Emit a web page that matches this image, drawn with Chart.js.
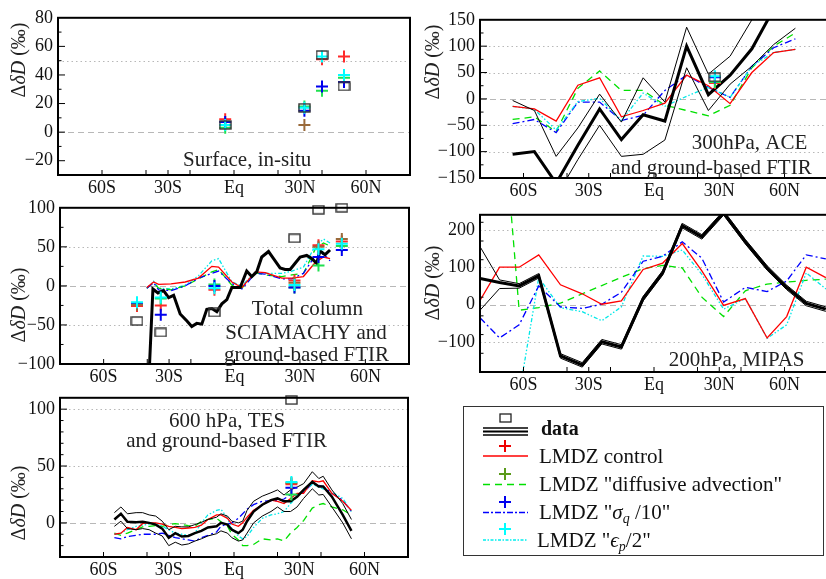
<!DOCTYPE html>
<html>
<head>
<meta charset="utf-8">
<script src="https://cdn.jsdelivr.net/npm/chart.js@4.4.1/dist/chart.umd.min.js"></script>
<style>
  body { margin: 0; width: 826px; height: 579px; overflow: hidden; background: #fff; position: relative;
         font-family: 'Liberation Serif', 'Times New Roman', serif; }
  canvas { position: absolute; }
  .yt { position: absolute; white-space: nowrap; font-size: 20px; color: #222;
        transform: translate(-50%, -50%) rotate(-90deg); }
  #legend { position: absolute; left: 463px; top: 406px; width: 361px; height: 150px;
            border: 1.5px solid #333; box-sizing: border-box; }
  #legend svg { position: absolute; left: 0; top: 0; }
  .lt { position: absolute; font-size: 21px; line-height: 24px; height: 24px; white-space: nowrap; color: #111; }
  .lt sub { font-size: 14px; vertical-align: -4px; line-height: 0; }
</style>
</head>
<body>
<canvas id="p1"></canvas>
<canvas id="p2"></canvas>
<canvas id="p3"></canvas>
<canvas id="p4"></canvas>
<canvas id="p5"></canvas>

<div class="yt" style="left:18px; top:60px">&Delta;<i>&delta;D</i> (&permil;)</div>
<div class="yt" style="left:432px; top:62px">&Delta;<i>&delta;D</i> (&permil;)</div>
<div class="yt" style="left:18px; top:305px">&Delta;<i>&delta;D</i> (&permil;)</div>
<div class="yt" style="left:432px; top:283px">&Delta;<i>&delta;D</i> (&permil;)</div>
<div class="yt" style="left:18px; top:503px">&Delta;<i>&delta;D</i> (&permil;)</div>

<div id="legend">
  <svg width="361" height="150">
    <rect x="36" y="7" width="11" height="8" fill="none" stroke="#222" stroke-width="1.3"/>
    <line x1="19" y1="21" x2="64" y2="21" stroke="#000" stroke-width="1.5"/>
    <line x1="19" y1="24.5" x2="64" y2="24.5" stroke="#000" stroke-width="2"/>
    <line x1="19" y1="28" x2="64" y2="28" stroke="#000" stroke-width="1.5"/>

    <path d="M35 39 H47 M41 33 V45" stroke="#ee0000" stroke-width="2"/>
    <line x1="19" y1="49" x2="64" y2="49" stroke="#ff0000" stroke-width="1.5"/>

    <path d="M35 67 H47 M41 61 V73" stroke="#5a9a1a" stroke-width="2"/>
    <line x1="19" y1="77.5" x2="64" y2="77.5" stroke="#00e000" stroke-width="1.5" stroke-dasharray="7,5"/>

    <path d="M35 95 H47 M41 89 V101" stroke="#0000ee" stroke-width="2"/>
    <line x1="19" y1="105.5" x2="64" y2="105.5" stroke="#0000ff" stroke-width="1.5" stroke-dasharray="6,2,2,2"/>

    <path d="M35 122 H47 M41 116 V128" stroke="#00ffff" stroke-width="2"/>
    <line x1="19" y1="133" x2="64" y2="133" stroke="#00eeee" stroke-width="1.5" stroke-dasharray="3,1.5,1.5,1.5"/>
  </svg>
  <div class="lt" style="left:77px; top:9px; font-weight:bold; font-size:20px">data</div>
  <div class="lt" style="left:75px; top:37px">LMDZ control</div>
  <div class="lt" style="left:75px; top:65px">LMDZ "diffusive advection"</div>
  <div class="lt" style="left:75px; top:93px">LMDZ "<i>&sigma;<sub>q</sub></i> /10"</div>
  <div class="lt" style="left:73px; top:121px">LMDZ "<i>&#x03F5;<sub>p</sub></i>/2"</div>
</div>

<script>
// ---- shared axis labels ----
const LAT_TICKS  = [-60, -30, 0, 30, 60];
const LAT_LABELS = ['60S', '30S', 'Eq', '30N', '60N'];
const LAT_MINOR  = [-60, -40, -30, -20, 0, 20, 30, 40, 60];

// ---- panel 1 : surface, in-situ (station markers only) ----
const p1Lat    = [-4, 32, 40, 50];
const p1Obs    = [5, 17, 54, 32];
const p1Ctrl   = [9, null, 51, 53];
const p1Diff   = [3, 18, 29, 38];
const p1Adv    = [null, 5, null, null];
const p1Sig    = [7, 15, 32, 35];
const p1Eps    = [5, 17, 53, 40];
const p1YTicks = [-20, 0, 20, 40, 60, 80];

// ---- panel 2 : 300 hPa, ACE ----
const p2Lat    = [-65, -55, -45, -35, -25, -15, -5, 5, 15, 25, 35, 45, 55, 65];
const p2Obs    = [-105, -100, -160, -88, -19, -77, -30, -42, 100, 8, 45, 95, 170, 230];
const p2ObsHi  = [-3, -22, -109, -55, 9, -44, 40, -6, 136, 47, 81, 150, 220, 280];
const p2ObsLo  = [-210, -200, -185, -115, -50, -109, -105, -78, 59, -22, 28, 62, 103, 134];
const p2Ctrl   = [-14, -19, -42, 26, 40, -34, -22, -8, 45, 25, -9, 50, 88, 94];
const p2Diff   = [-39, -34, -62, 20, 53, 16, 16, -12, -22, -32, -12, 59, 100, 125];
const p2Sig    = [-47, -39, -64, -6, -6, -41, -31, 16, 45, 22, 3, 62, 97, 114];
const p2Eps    = [-14, -20, -59, -5, 1, -41, 11, -14, 5, 22, 3, 62, 88, 94];
const p2MLat   = [28];
const p2MObs   = [41];
const p2MCtrl  = [30];
const p2MDiff  = [32];
const p2MSig   = [41];
const p2MEps   = [43];
const p2YTicks = [-150, -100, -50, 0, 50, 100, 150];

// ---- panel 3 : total column, SCIAMACHY ----
const p3Lat    = [-39.1, -37.4, -35.1, -32.5, -30.2, -27.9, -24.9, -21.8, -19.6, -17.3, -15, -12.7,
                  -10.4, -8.1, -5.8, -3.5, -1.2, 0.6, 2.6, 5.6, 7.9, 10.2, 12.5, 15.6,
                  17.9, 20.9, 23.2, 25.5, 27.8, 30.1, 33.1, 35.4, 37.7, 39.2, 41.5, 43.8];
const p3Obs    = [-110, -4, -9, -6, -15, -12, -36, -45, -52, -48, -49, -30,
                  -29, -33, -23, -17.5, -2, -2, -2, 19, 12, 18, 37, 44,
                  35, 23, 21, 21, 29, 37, 39, 35, 29, 45, 40, 46];
const p3MdlLat = [-40.2, -37.1, -34.8, -29.1, -22.6, -16.5, -10.4, -7.3, -1.2, 3.4, 9.5, 14.1, 21.7, 26.3, 31.6, 37, 40.8, 43.8];
const p3Ctrl   = [-2, 5, 2, 2.5, 5, 10, 25, 24, 5, -2, 18, 17, 10, 10, 12, 30, 37, 35];
const p3Diff   = [-3, 4, -3, -5, 0, 9, 18, 21, 1, -3, 17, 14, 12, 14, 16, 47, 55, 51];
const p3Sig    = [-3, 4, -5, -6, 0, 10, 16, 19, 3, -4, 16, 15, 9, 9, 16, 39, 41, 32];
const p3Eps    = [-3, 6, -3, -4, 1, 13, 32, 35, 5, 0, 18, 16, 16, 19, 24, 51, 60, 55];
const p3MLat   = [-44.7, -33.8, -9.2, 27.5, 38.5, 49.2];
const p3MObs   = [-45, -59.6, -34, 61, 97.5, 100];
const p3MCtrl  = [-25.6, -25, -5, 7, 52, 57];
const p3MDiff  = [-23, -16, 1.7, -2, 26, 51];
const p3MAdv   = [-24, null, null, 4, 50, 60];
const p3MSig   = [-23, -37, 0, -2, 37, 46];
const p3MEps   = [-21, -15, -3, 1, 47, 54];
const p3YTicks = [-100, -50, 0, 50, 100];

// ---- panel 4 : 200 hPa, MIPAS ----
const p4Lat    = [-80, -71, -62, -53, -43, -33, -24, -15, -5, 4, 13, 22, 32, 42, 52, 61, 70, 79];
const p4Obs    = [70, 59, 50, 77, -137, -161, -99, -113, 16, 85, 211, 181, 245, 168, 98, 46, 3, -12];
const p4ObsHi  = [155, 66, 56, 83, -131, -155, -93, -107, 22, 91, 217, 187, 251, 174, 104, 52, 9, -6];
const p4ObsLo  = [-15, 43, 44, 71, -143, -167, -105, -119, 10, 79, 205, 175, 239, 162, 92, 40, -3, -18];
const p4Ctrl   = [11, 100, 100, 133, 53, 29, 1, 10, 94, 111, 163, 90, -2, 16, -89, -32, 100, 72];
const p4Diff   = [700, 620, -15, -8, 4, 29, 51, 73, 96, 105, 98, 20, -32, 37, 55, 60, 65, 68];
const p4Sig    = [-35, -89, -54, 50, -6, -10, 1, 33, 116, 129, 168, 124, 7, 46, 35, 63, 133, 122];
const p4Eps    = [-400, -400, -240, 72, -8, -19, -43, -6, 130, 129, 146, 81, -12, 16, -90, -54, 85, 42];
const p4YTicks = [-100, 0, 100, 200];

// ---- panel 5 : 600 hPa, TES ----
const p5Lat    = [-55, -52, -49, -45, -42, -39, -36, -33, -30, -27, -24, -21, -18, -15, -12, -8, -6, -3,
                  -1, 2, 4, 6, 9, 13, 17, 20, 23, 26, 29, 32, 36, 39, 41, 45, 50, 54];
const p5Obs    = [3, 8, 1, 0.5, 1, 0, -1.5, -5, -13, -9, -12, -11.5, -9, -7, -4, -3, 0, -1.5,
                  -6, -9, -6, 1.5, 10, 16, 20, 21.5, 19, 19, 23, 29, 36, 32, 32, 23, 7, -7];
const p5ObsHi  = [9, 14, 8, 9, 9, 7, 6, 1.5, -6, -3, -3.5, -3.5, -1.5, 0.5, 3, 5, 8, 6,
                  1.5, 0, 1.5, 11, 19, 23.5, 26.5, 29, 24.5, 29, 31.5, 34.5, 45, 39, 41, 29, 17, 3];
const p5ObsLo  = [-3, 1.5, -5, -6, -5, -6, -9, -11.5, -20, -17, -19.5, -18.5, -16, -14, -11.5, -9.5, -7, -9,
                  -13, -16, -15, -9, 0, 6, 10, 14, 10, 10, 14, 21.5, 30, 24.5, 25, 14, 0, -14];
const p5Ctrl   = [-10, -9, -4, -6, -0.5, 0, 0, -1, -3, -4, -5, -4.5, -4, -2, 3, 7, 7, 4,
                  -1, -3, 0, 5, 11, 16, 20, 19, 17, 21.5, 26, 26, 37, 36, 37, 26, 19, 11];
const p5Diff   = [-9, -11, -9, -6, -3.5, -3, -2.3, -3, -1.5, -0.6, -1.5, -2.5, -3, 1.4, 3, 4, 1, -3,
                  -10, -15, -20, -20, -19, -14, -15, -14, -16, -9, -4, 2, 13, 16, 17, 14, 11.5, 7];
const p5Sig    = [-13, -14, -12, -11, -10, -10, -10, -9, -11, -13, -14, -15, -16, -13, -11, -8, -3, -1,
                  0, 4, 8, 12, 16, 19, 19.5, 19.5, 21, 25, 24.5, 27, 34.5, 33, 32, 26, 20, 10];
const p5Eps    = [-10, -9, -6, -3, -2, -1, 0, -3, -6, -9, -10, -11, -9, 0, 7, 11, 12, 4,
                  -5, -11.5, -14, -12, -4, 4, 7, 8, 10, 17, 23, 28, 34, 31.5, 30, 27, 21.5, 10];
const p5MLat   = [26.4];
const p5MObs   = [108];
const p5MCtrl  = [34];
const p5MDiff  = [25];
const p5MAdv   = [35];
const p5MSig   = [31];
const p5MEps   = [36];
const p5YTicks = [0, 50, 100];

// ---- styles ----
const FONT = "'Liberation Serif', 'Times New Roman', serif";
const ST = {
  obs:   { color: '#000', width: 3, dash: [] },
  obsEr: { color: '#000', width: 1, dash: [] },
  ctrl:  { color: '#ff0000', width: 1.3, dash: [] },
  diff:  { color: '#00e000', width: 1.3, dash: [7, 5] },
  sig:   { color: '#0000ff', width: 1.3, dash: [7, 3, 2, 3] },
  eps:   { color: '#00e8e8', width: 1.3, dash: [4, 2, 1.5, 2, 1.5, 2] },
};
const MK = { ctrl: '#ff2a2a', diff: '#20e050', adv: '#9a6a3a', sig: '#0000ee', eps: '#00ffff' };

// open rectangle used for the observation markers
const sqImg = document.createElement('canvas');
sqImg.width = 13; sqImg.height = 10;
(function () {
  const c = sqImg.getContext('2d');
  c.strokeStyle = '#333'; c.lineWidth = 1.4;
  c.strokeRect(1, 1, 11, 8);
})();

function pts(lat, vals) {
  return lat.map((x, i) => ({ x, y: vals[i] }));
}

function lineDs(lat, vals, st, order) {
  return {
    data: pts(lat, vals), showLine: true,
    borderColor: st.color, borderWidth: st.width, borderDash: st.dash,
    pointRadius: 0, tension: 0, fill: false, order,
  };
}

function crossDs(lat, vals, color) {
  return {
    data: pts(lat, vals), showLine: false,
    pointStyle: 'cross', pointRadius: 6, pointBorderWidth: 2,
    borderColor: color, backgroundColor: color, clip: false, order: 0,
  };
}

function obsDs(lat, vals) {
  return {
    data: pts(lat, vals), showLine: false,
    pointStyle: sqImg, pointRadius: 5, clip: false, order: 0,
  };
}

function modelMarkers(lat, m) {
  const out = [];
  if (m.eps)  out.push(crossDs(lat, m.eps, MK.eps));
  if (m.adv)  out.push(crossDs(lat, m.adv, MK.adv));
  if (m.sig)  out.push(crossDs(lat, m.sig, MK.sig));
  if (m.diff) out.push(crossDs(lat, m.diff, MK.diff));
  if (m.ctrl) out.push(crossDs(lat, m.ctrl, MK.ctrl));
  return out;
}

const fmtY = v => (v < 0 ? '\u2212' + Math.abs(v) : String(v));

// reference lines, frame, inward ticks, in-panel captions
const decor = {
  id: 'decor',
  beforeDatasetsDraw(chart, args, o) {
    const { ctx, chartArea: a, scales: { y } } = chart;
    ctx.save();
    ctx.lineWidth = 1;
    ctx.strokeStyle = '#b8b8b8';
    ctx.setLineDash([1.5, 3]);
    o.dotted.forEach(v => {
      const py = Math.round(y.getPixelForValue(v)) + 0.5;
      ctx.beginPath(); ctx.moveTo(a.left, py); ctx.lineTo(a.right, py); ctx.stroke();
    });
    ctx.setLineDash([6, 4]);
    const p0 = Math.round(y.getPixelForValue(0)) + 0.5;
    ctx.beginPath(); ctx.moveTo(a.left, p0); ctx.lineTo(a.right, p0); ctx.stroke();
    ctx.restore();
  },
  afterDatasetsDraw(chart, args, o) {
    const { ctx, chartArea: a, scales: { x, y } } = chart;
    ctx.save();
    ctx.strokeStyle = '#000';
    ctx.lineWidth = 1;
    for (let v = y.min; v <= y.max + 1e-9; v += o.minor) {
      if (v === y.min || v === y.max) continue;
      const py = y.getPixelForValue(v);
      const len = o.ticks.includes(v) ? 7 : 3.5;
      ctx.beginPath(); ctx.moveTo(a.left, py); ctx.lineTo(a.left + len, py); ctx.stroke();
    }
    LAT_MINOR.forEach(v => {
      const px = x.getPixelForValue(v);
      ctx.beginPath(); ctx.moveTo(px, a.bottom); ctx.lineTo(px, a.bottom - 5); ctx.stroke();
    });
    ctx.lineWidth = 2;
    ctx.strokeRect(a.left, a.top, a.right - a.left, a.bottom - a.top);

    ctx.fillStyle = '#222';
    ctx.font = '21px ' + FONT;
    ctx.textBaseline = 'middle';
    o.texts.forEach(t => {
      ctx.textAlign = t.align;
      ctx.fillText(t.t, x.getPixelForValue(t.x), y.getPixelForValue(t.y));
    });
    ctx.restore();
  },
};

function makePanel(id, g, cfg) {
  const padTop = 12, padRight = 12, xAxisH = 26;
  const cv = document.getElementById(id);
  const top = g.t - padTop;
  cv.width = g.r - g.left0 + padRight;
  cv.height = padTop + (g.b - g.t) + xAxisH;
  cv.style.left = g.left0 + 'px';
  cv.style.top = top + 'px';

  new Chart(cv, {
    type: 'scatter',
    data: { datasets: cfg.datasets },
    options: {
      responsive: false, animation: false, events: [],
      layout: { padding: { top: padTop, right: padRight, left: 0, bottom: 0 } },
      plugins: {
        legend: { display: false }, tooltip: { enabled: false },
        decor: { dotted: cfg.dotted, minor: cfg.minor, ticks: cfg.yTicks, texts: cfg.texts },
      },
      scales: {
        x: {
          type: 'linear', min: -80, max: 80,
          afterBuildTicks: s => { s.ticks = LAT_TICKS.map(v => ({ value: v })); },
          afterFit: s => { s.height = xAxisH; },
          ticks: {
            callback: v => LAT_LABELS[LAT_TICKS.indexOf(v)],
            font: { family: FONT, size: 18 }, color: '#111', padding: 2,
            maxRotation: 0, autoSkip: false,
          },
          grid: { display: false, drawTicks: false },
          border: { display: false },
        },
        y: {
          type: 'linear', min: cfg.yMin, max: cfg.yMax,
          afterBuildTicks: s => { s.ticks = cfg.yTicks.map(v => ({ value: v })); },
          afterFit: s => { s.width = g.l - g.left0; },
          ticks: {
            callback: v => fmtY(v),
            font: { family: FONT, size: 18 }, color: '#111', padding: 5, autoSkip: false,
          },
          grid: { display: false, drawTicks: false },
          border: { display: false },
        },
      },
    },
    plugins: [decor],
  });
}

// ---- build panels ----
makePanel('p1', { left0: 0, l: 58, t: 14, r: 410, b: 175 }, {
  yMin: -30, yMax: 80, yTicks: p1YTicks, minor: 10, dotted: [50],
  datasets: [
    obsDs(p1Lat, p1Obs),
    ...modelMarkers(p1Lat, { ctrl: p1Ctrl, diff: p1Diff, adv: p1Adv, sig: p1Sig, eps: p1Eps }),
  ],
  texts: [{ t: 'Surface, in-situ', x: 6, y: -20, align: 'center' }],
});

makePanel('p2', { left0: 420, l: 480, t: 16, r: 828, b: 178 }, {
  yMin: -150, yMax: 150, yTicks: p2YTicks, minor: 25, dotted: [100, 50, -50, -100],
  datasets: [
    obsDs(p2MLat, p2MObs),
    ...modelMarkers(p2MLat, { ctrl: p2MCtrl, diff: p2MDiff, sig: p2MSig, eps: p2MEps }),
    lineDs(p2Lat, p2Obs, ST.obs, 1),
    lineDs(p2Lat, p2ObsHi, ST.obsEr, 1),
    lineDs(p2Lat, p2ObsLo, ST.obsEr, 1),
    lineDs(p2Lat, p2Ctrl, ST.ctrl, 2),
    lineDs(p2Lat, p2Eps, ST.eps, 2),
    lineDs(p2Lat, p2Sig, ST.sig, 2),
    lineDs(p2Lat, p2Diff, ST.diff, 2),
  ],
  texts: [
    { t: '300hPa, ACE', x: 70.5, y: -85, align: 'right' },
    { t: 'and ground-based FTIR', x: 72.5, y: -132, align: 'right' },
  ],
});

makePanel('p3', { left0: 0, l: 60, t: 204, r: 409, b: 364 }, {
  yMin: -100, yMax: 100, yTicks: p3YTicks, minor: 25, dotted: [50, -50],
  datasets: [
    obsDs(p3MLat, p3MObs),
    ...modelMarkers(p3MLat, { ctrl: p3MCtrl, diff: p3MDiff, adv: p3MAdv, sig: p3MSig, eps: p3MEps }),
    lineDs(p3Lat, p3Obs, ST.obs, 1),
    lineDs(p3MdlLat, p3Ctrl, ST.ctrl, 2),
    lineDs(p3MdlLat, p3Sig, ST.sig, 2),
    lineDs(p3MdlLat, p3Diff, ST.diff, 2),
    lineDs(p3MdlLat, p3Eps, ST.eps, 2),
  ],
  texts: [
    { t: 'Total column', x: 33.4, y: -30, align: 'center' },
    { t: 'SCIAMACHY and', x: 32.8, y: -61, align: 'center' },
    { t: 'ground-based FTIR', x: 33, y: -89, align: 'center' },
  ],
});

makePanel('p4', { left0: 420, l: 480, t: 211, r: 828, b: 372 }, {
  yMin: -180, yMax: 240, yTicks: p4YTicks, minor: 50, dotted: [200, 100, -100],
  datasets: [
    lineDs(p4Lat, p4Obs, ST.obs, 1),
    lineDs(p4Lat, p4ObsHi, ST.obsEr, 1),
    lineDs(p4Lat, p4ObsLo, ST.obsEr, 1),
    lineDs(p4Lat, p4Ctrl, ST.ctrl, 2),
    lineDs(p4Lat, p4Sig, ST.sig, 2),
    lineDs(p4Lat, p4Eps, ST.eps, 2),
    lineDs(p4Lat, p4Diff, ST.diff, 2),
  ],
  texts: [{ t: '200hPa, MIPAS', x: 69.2, y: -150, align: 'right' }],
});

makePanel('p5', { left0: 0, l: 60, t: 394, r: 408, b: 557 }, {
  yMin: -30, yMax: 110, yTicks: p5YTicks, minor: 10, dotted: [100, 50],
  datasets: [
    obsDs(p5MLat, p5MObs),
    ...modelMarkers(p5MLat, { ctrl: p5MCtrl, diff: p5MDiff, adv: p5MAdv, sig: p5MSig, eps: p5MEps }),
    lineDs(p5Lat, p5Obs, { color: '#000', width: 2.5, dash: [] }, 1),
    lineDs(p5Lat, p5ObsHi, ST.obsEr, 1),
    lineDs(p5Lat, p5ObsLo, ST.obsEr, 1),
    lineDs(p5Lat, p5Ctrl, ST.ctrl, 1),
    lineDs(p5Lat, p5Eps, ST.eps, 2),
    lineDs(p5Lat, p5Sig, ST.sig, 2),
    lineDs(p5Lat, p5Diff, ST.diff, 2),
  ],
  texts: [
    { t: '600 hPa, TES', x: -3.2, y: 89.4, align: 'center' },
    { t: 'and ground-based FTIR', x: -3.4, y: 72, align: 'center' },
  ],
});
</script>
</body>
</html>
